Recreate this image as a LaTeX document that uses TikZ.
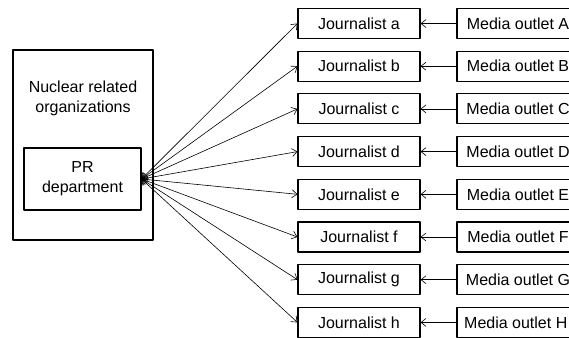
\documentclass[tikz,border=0pt]{standalone}
\usepackage{fontspec}
\setmainfont{Liberation Sans}
\usetikzlibrary{arrows.meta}
\begin{document}
\begin{tikzpicture}[x=1pt,y=-1pt,line cap=round,line join=round,
    box/.style={draw,line width=1.1pt,minimum width=122pt,minimum height=30pt,
        inner sep=0pt,align=center,font=\fontsize{16}{20}\selectfont},
    barb/.style={Straight Barb[length=5pt,width=8pt]},
    link/.style={line width=0.6pt,{Straight Barb[length=5pt,width=8pt]}-{Straight Barb[length=5pt,width=8pt]}},
    feed/.style={line width=0.6pt,-{Straight Barb[length=5pt,width=8pt]}}]
\useasboundingbox (0,0) rectangle (569,337);
\node[box,minimum width=140pt,minimum height=190pt] (org) at (83,145) {};
\node[align=center,font=\fontsize{16}{20}\selectfont] (orgname) at (83,98)
    {Nuclear related\\organizations};
\node[box,minimum width=117pt,minimum height=62pt] (pr) at (82.5,179)
    {PR\\department};
\foreach \n/\m [count=\k from 0] in {
    a/A,
    b/B,
    c/C,
    d/D,
    e/E,
    f/F,
    g/G,
    h/H
}
{
    \node[box] (j\n) at (359,{23.5+42.7*\k}) {Journalist \n};
    \node[box] (m\n) at (518,{23.5+42.7*\k}) {Media outlet \m};
    \draw[link] (pr.east) -- (j\n.west);
    \draw[feed] (m\n.west) -- (j\n.east);
}
\end{tikzpicture}
\end{document}
